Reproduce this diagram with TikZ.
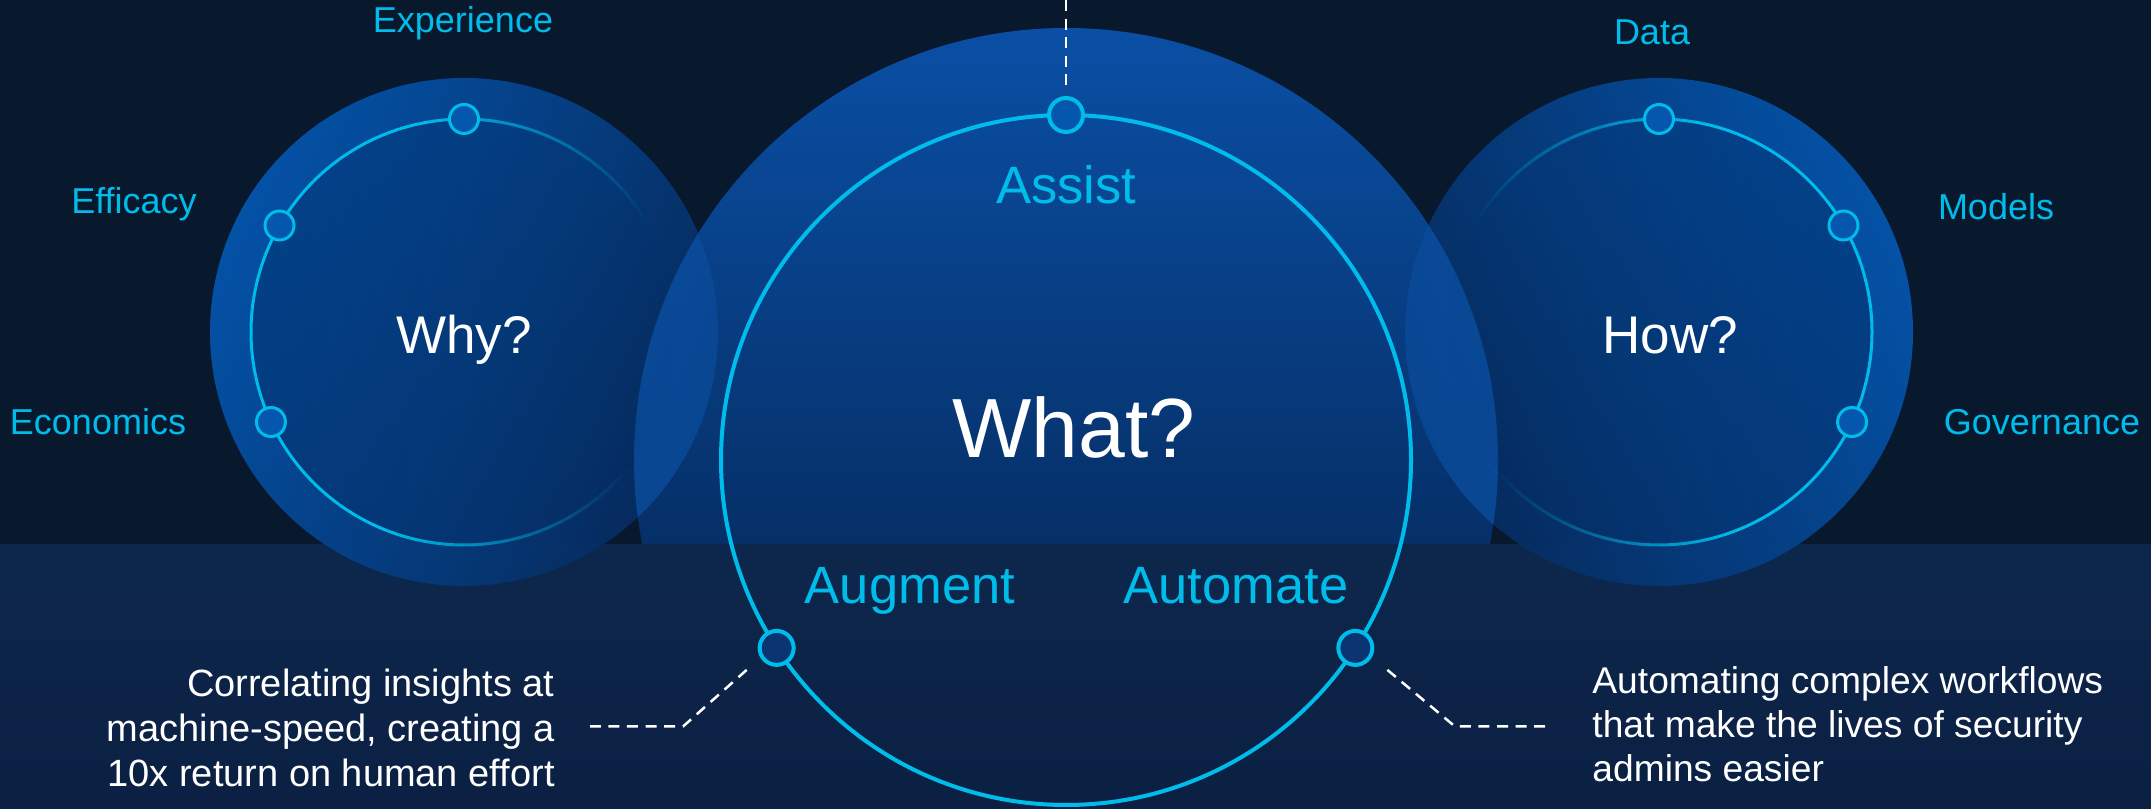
\documentclass[tikz,border=0pt]{standalone}
\usepackage{fontspec}
\setmainfont{Liberation Sans}
\usetikzlibrary{calc,fadings}

\definecolor{bgtop}{HTML}{08182D}
\definecolor{bandtop}{HTML}{0D274C}
\definecolor{bandbot}{HTML}{0B2043}
\definecolor{cyanc}{HTML}{00BCEB}
\definecolor{midtop}{HTML}{0A4FA5}
\definecolor{midbot}{HTML}{031A3D}
\definecolor{sidebright}{HTML}{0455AD}
\definecolor{sidemid}{HTML}{05408A}
\definecolor{sidedim}{HTML}{062B5E}
\definecolor{innerc}{HTML}{032A60}
\definecolor{lenscol}{HTML}{0C59B4}
\definecolor{dotfill}{HTML}{0457AD}
\definecolor{dotdark}{HTML}{0A3570}

\tikzfading[name=innerfadeL, left color=transparent!0, middle color=transparent!40, right color=transparent!100]
\tikzfading[name=innerfadeR, left color=transparent!100, middle color=transparent!40, right color=transparent!0]

\begin{document}
\begin{tikzpicture}[x=0.5pt,y=0.5pt,
  bigdisk/.style={circle, inner sep=0pt, minimum size=432pt, top color=midtop, bottom color=midbot},
  sidedisk/.style={circle, inner sep=0pt, minimum size=254pt, fill opacity=0.95,
     top color=sidebright, middle color=sidemid, bottom color=sidedim},
  sidering/.style={draw=cyanc, line width=1.5pt, line cap=butt},
  midring/.style={draw=cyanc, line width=2pt},
  sdot/.style={circle, inner sep=0pt, minimum size=14.5pt, draw=cyanc, line width=1.5pt, fill=dotfill},
  mdot/.style={circle, inner sep=0pt, minimum size=17pt, draw=cyanc, line width=2pt, fill=dotfill},
  lbl/.style={text=cyanc, inner sep=0pt, anchor=base, font=\fontsize{18}{21}\selectfont},
  mlbl/.style={text=cyanc, inner sep=0pt, anchor=base, font=\fontsize{26.25}{30}\selectfont},
  qlbl/.style={text=white, inner sep=0pt, anchor=base, font=\fontsize{26.5}{30}\selectfont},
  desc/.style={text=white, inner sep=0pt, font=\fontsize{19}{22.5}\selectfont},
  dashln/.style={draw=white, line width=1.25pt, dash pattern=on 5.5pt off 3.8pt}
]
\useasboundingbox (0,0) rectangle (2151,808);
\fill[bgtop] (0,0) rectangle (2151,808);

% middle big disk
\node[bigdisk] (what) at (1066,348) {};

% lower band
\shade[top color=bandtop, bottom color=bandbot] (0,0) rectangle (2151,263);

% side disks
\node[sidedisk, shading angle=65] (why) at (464,476) {};
\node[sidedisk, shading angle=-65] (how) at (1659,476) {};

% brighter overlap of side disks with the middle disk
\begin{scope}
  \clip (what.center) circle[radius=432];
  \clip (0,263) rectangle (2151,808);
  \fill[lenscol, fill opacity=0.6] (why.center) circle[radius=254];
  \fill[lenscol, fill opacity=0.6] (how.center) circle[radius=254];
\end{scope}

% darker inner areas of the side circles
\fill[innerc, fill opacity=0.42, path fading=innerfadeL] (why.center) circle[radius=213];
\fill[innerc, fill opacity=0.42, path fading=innerfadeR] (how.center) circle[radius=213];

% side rings, fading out on the side facing the middle circle
\foreach \a in {0,3,...,357} {
  \pgfmathsetmacro{\opw}{max(0,min(1,0.75+0.9*cos(\a+1.5-175)))}
  \pgfmathsetmacro{\oph}{max(0,min(1,0.75+0.9*cos(\a+1.5-5)))}
  \draw[sidering, draw opacity=\opw] ($(why.center)+(\a:213)$) arc[start angle=\a, end angle=\a+3, radius=213];
  \draw[sidering, draw opacity=\oph] ($(how.center)+(\a:213)$) arc[start angle=\a, end angle=\a+3, radius=213];
}
% middle ring
\draw[midring] (what.center) circle[radius=345];

% dots on side rings
\node[sdot] (dexp) at ($(why.center)+(90:213)$) {};
\node[sdot] (deff) at ($(why.center)+(150:213)$) {};
\node[sdot] (deco) at ($(why.center)+(205:213)$) {};
\node[sdot] (ddata) at ($(how.center)+(90:213)$) {};
\node[sdot] (dmod) at ($(how.center)+(30:213)$) {};
\node[sdot] (dgov) at ($(how.center)+(-25:213)$) {};

% dots on middle ring
\node[mdot] (dassist) at ($(what.center)+(90:345)$) {};
\node[mdot, fill=dotdark] (daug) at ($(what.center)+(213:345)$) {};
\node[mdot, fill=dotdark] (dauto) at ($(what.center)+(327:345)$) {};

% side labels
\node[lbl] (lexp) at (463,775.5) {Experience};
\node[lbl] (leff) at (134,594) {Efficacy};
\node[lbl] (leco) at (98,373) {Economics};
\node[lbl] (ldata) at (1652,763) {Data};
\node[lbl] (lmod) at (1996,588) {Models};
\node[lbl] (lgov) at (2042,373.6) {Governance};

% question labels
\node[qlbl] (qwhy) at (464,454) {Why?};
\node[qlbl] (qhow) at (1670,454) {How?};
\node[text=white, inner sep=0pt, anchor=base, font=\fontsize{42}{48}\selectfont] (qwhat) at (1074,350) {What?};

% middle labels
\node[mlbl] (lassist) at (1066,604.4) {Assist};
\node[mlbl] (laug) at (910,204) {Augment};
\node[mlbl] (lauto) at (1236,204) {Automate};

% descriptions (base anchor = last line)
\node[desc, align=right, anchor=base east] (ldesc) at (555,21.5) {Correlating insights at\\machine-speed, creating a\\10x return on human effort};
\node[desc, font=\fontsize{18.6}{22.2}\selectfont, align=left, anchor=base west] (rdesc) at (1592,26) {Automating complex workflows\\that make the lives of security\\admins easier};

% dashed connectors
\coordinate (ttop) at (1066,808);
\coordinate (lcorner) at (683,81.5);
\coordinate (lend) at (590,81.5);
\coordinate (rcorner) at (1455,81.5);
\coordinate (rend) at (1549,81.5);
\draw[dashln] (ttop) -- ($(dassist.north)+(0,5)$);
\draw[dashln] ($(daug.center)+(-30,-22)$) -- (lcorner) -- (lend);
\draw[dashln] ($(dauto.center)+(32,-22)$) -- (rcorner) -- (rend);
\end{tikzpicture}
\end{document}
